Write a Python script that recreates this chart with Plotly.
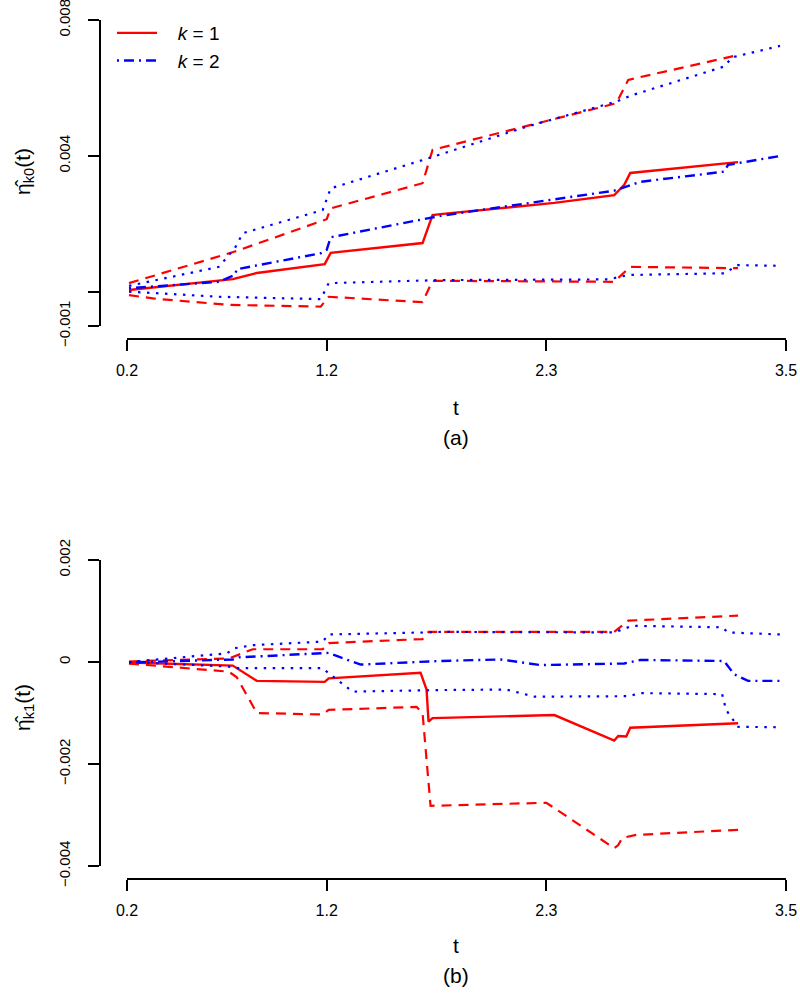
import plotly.graph_objects as go

# panel (a): eta_k0(t), k = 1 (red) and k = 2 (blue), estimates and bands
a_est1_t = [0.21, 0.73, 0.85, 1.19, 1.22, 1.68, 1.73, 1.77, 2.34, 2.64, 2.69, 2.72, 3.26]
a_est1_v = [0.00006, 0.00038, 0.00056, 0.00082, 0.00115, 0.00144, 0.00226, 0.00229,
            0.00262, 0.00285, 0.00315, 0.0035, 0.00382]
a_up1_t = [0.21, 0.74, 1.20, 1.22, 1.68, 1.73, 2.65, 2.71, 3.26]
a_up1_v = [0.00026, 0.00119, 0.00214, 0.00246, 0.0032, 0.00418, 0.00555, 0.00624, 0.00697]
a_lo1_t = [0.21, 0.33, 0.71, 1.17, 1.21, 1.27, 1.68, 1.73, 2.22, 2.64, 2.72, 3.26]
a_lo1_v = [-0.00009, -0.00019, -0.00038, -0.00043, -0.00014, -0.00016, -0.0003,
           0.00033, 0.00032, 0.0003, 0.00074, 0.0007]
a_est2_t = [0.21, 0.66, 0.74, 0.75, 1.17, 1.20, 1.22, 1.77, 2.64, 2.77, 3.19, 3.21, 3.47]
a_est2_v = [0.00011, 0.0003, 0.0005, 0.00067, 0.00114, 0.00124, 0.00161, 0.00224,
            0.00298, 0.00324, 0.00354, 0.00374, 0.004]
a_up2_t = [0.21, 0.66, 0.74, 0.78, 1.18, 1.21, 1.22, 1.68, 2.2, 2.65, 2.73, 3.19, 3.23, 3.47]
a_up2_v = [0.00018, 0.00074, 0.00129, 0.00173, 0.00241, 0.00285, 0.00305, 0.00388,
           0.00486, 0.0056, 0.00579, 0.00663, 0.0069, 0.00724]
a_lo2_t = [0.21, 0.66, 1.17, 1.21, 1.77, 2.61, 2.71, 3.19, 3.26, 3.47]
a_lo2_v = [0.00001, -0.00014, -0.00021, 0.00026, 0.00035, 0.00037, 0.0005, 0.00055,
           0.00079, 0.00077]

# panel (b): eta_k1(t)
b_est1_t = [0.21, 0.73, 0.85, 1.19, 1.21, 1.67, 1.70, 1.71, 1.73, 2.34, 2.64, 2.66,
            2.70, 2.72, 3.26]
b_est1_v = [-0.00001, -0.00007, -0.00037, -0.00039, -0.00032, -0.00021, -0.00054,
            -0.00117, -0.0011, -0.00104, -0.00154, -0.00145, -0.00146, -0.00129, -0.0012]
b_up1_t = [0.21, 0.71, 0.83, 1.18, 1.21, 1.68, 1.71, 2.64, 2.71, 3.26]
b_up1_v = [0.00001, 0.00007, 0.00025, 0.00025, 0.00037, 0.00045, 0.00059, 0.00059,
           0.00081, 0.00091]
b_lo1_t = [0.21, 0.71, 0.75, 0.85, 1.18, 1.21, 1.65, 1.68, 1.72, 2.30, 2.64, 2.66,
           2.68, 2.75, 3.26]
b_lo1_v = [-0.00003, -0.00019, -0.0003, -0.001, -0.00103, -0.00094, -0.00088, -0.001,
           -0.00282, -0.00276, -0.00365, -0.00359, -0.00345, -0.00339, -0.00329]
b_est2_t = [0.21, 0.73, 0.76, 1.17, 1.21, 1.27, 1.37, 1.77, 2.07, 2.27, 2.69, 2.77,
            3.19, 3.24, 3.31, 3.47]
b_est2_v = [-0.00001, 0.00005, 0.00009, 0.00016, 0.00018, 0.00009, -0.00005, 0.00002,
            0.00005, -0.00006, -0.00003, 0.00004, 0.00002, -0.00024, -0.00037, -0.00037]
b_up2_t = [0.21, 0.70, 0.74, 0.83, 1.18, 1.21, 1.70, 1.77, 2.64, 2.73, 3.18, 3.21, 3.47]
b_up2_v = [0.0, 0.00017, 0.00027, 0.00033, 0.0004, 0.00054, 0.00058, 0.00059, 0.00058,
           0.00071, 0.00068, 0.00058, 0.00054]
b_lo2_t = [0.21, 0.71, 0.74, 1.18, 1.21, 1.33, 1.77, 2.10, 2.24, 2.71, 2.77, 3.18,
           3.20, 3.26, 3.47]
b_lo2_v = [0.0, -0.00009, -0.00012, -0.00012, -0.00022, -0.00058, -0.00055, -0.00054,
           -0.00068, -0.00067, -0.00061, -0.00063, -0.00094, -0.00127, -0.00128]

x_ticks = [0.2, 1.2, 2.3, 3.5]
a_yticks = [-0.001, 0, 0.004, 0.008]
a_ytext = ['\u22120.001', '', '0.004', '0.008']
b_yticks = [-0.004, -0.002, 0, 0.002]
b_ytext = ['\u22120.004', '\u22120.002', '0', '0.002']

RED = '#ff0000'
BLUE = '#0000ff'
FONT = 'Liberation Sans, Arial, Helvetica, sans-serif'
W, H = 800, 993

est1 = dict(color=RED, width=2.4)
ci1 = dict(color=RED, width=2.2, dash='10px,7px')
est2 = dict(color=BLUE, width=2.4, dash='2px,5px,10px,5px')
ci2 = dict(color=BLUE, width=2.2, dash='2.5px,6.5px')

fig = go.Figure()


def add(t, v, line, xa, ya, name=None):
    fig.add_trace(go.Scatter(x=t, y=v, mode='lines', line=line, xaxis=xa, yaxis=ya,
                             name=name, showlegend=name is not None))


gap = '\u00a0' * 3
add(a_est1_t, a_est1_v, est1, 'x', 'y', gap + '<i>k</i> = 1')
add(a_est2_t, a_est2_v, est2, 'x', 'y', gap + '<i>k</i> = 2')
add(a_up1_t, a_up1_v, ci1, 'x', 'y')
add(a_lo1_t, a_lo1_v, ci1, 'x', 'y')
add(a_up2_t, a_up2_v, ci2, 'x', 'y')
add(a_lo2_t, a_lo2_v, ci2, 'x', 'y')

add(b_est1_t, b_est1_v, est1, 'x2', 'y2')
add(b_up1_t, b_up1_v, ci1, 'x2', 'y2')
add(b_lo1_t, b_lo1_v, ci1, 'x2', 'y2')
add(b_est2_t, b_est2_v, est2, 'x2', 'y2')
add(b_up2_t, b_up2_v, ci2, 'x2', 'y2')
add(b_lo2_t, b_lo2_v, ci2, 'x2', 'y2')

ax = dict(showgrid=False, zeroline=False, showline=True, linecolor='black', linewidth=2,
          ticks='outside', ticklen=11, tickwidth=2, tickcolor='black',
          anchor='free', automargin=False, ticklabeloverflow='allow')
xdom = [127 / W, 786 / W]


def ydom(top, bottom):
    return [1 - bottom / H, 1 - top / H]


fig.update_layout(
    template='none',
    width=W, height=H,
    margin=dict(l=0, r=0, t=0, b=0, autoexpand=False),
    paper_bgcolor='white', plot_bgcolor='white',
    font=dict(family=FONT, size=16, color='black'),
    legend=dict(x=0.14, y=1 - 14 / H, xanchor='left', yanchor='top',
                bgcolor='rgba(0,0,0,0)', font=dict(size=19), itemwidth=40),
    xaxis=dict(domain=xdom, range=[0.2, 3.5], position=1 - 339 / H, ticklabelstandoff=6,
               tickfont=dict(size=16), tickvals=x_ticks,
               ticktext=[str(v) for v in x_ticks], **ax),
    yaxis=dict(domain=ydom(20, 326), range=[-0.001, 0.008], position=100 / W,
               ticklabelstandoff=12, tickfont=dict(size=15), tickvals=a_yticks,
               ticktext=a_ytext, tickangle=-90, **ax),
    xaxis2=dict(domain=xdom, range=[0.2, 3.5], position=1 - 879 / H, ticklabelstandoff=6,
                tickfont=dict(size=16), tickvals=x_ticks,
                ticktext=[str(v) for v in x_ticks], **ax),
    yaxis2=dict(domain=ydom(560, 866), range=[-0.004, 0.002], position=100 / W,
                ticklabelstandoff=12, tickfont=dict(size=15), tickvals=b_yticks,
                ticktext=b_ytext, tickangle=-90, **ax),
)

notes = [
    ('t', 456, 407, 21, 0), ('(a)', 456, 437, 21, 0),
    ('t', 456, 945, 21, 0), ('(b)', 456, 975, 21, 0),
    ('\u03b7\u0302<sub>k0</sub>(t)', 24, 172, 21, -90),
    ('\u03b7\u0302<sub>k1</sub>(t)', 24, 708, 21, -90),
]
for text, px, py, size, ang in notes:
    fig.add_annotation(text=text, x=px / W, y=1 - py / H, xref='paper', yref='paper',
                       showarrow=False, xanchor='center', yanchor='middle',
                       textangle=ang, font=dict(size=size))

# the page's default body margin would shift the 800x993 figure
fig.write_html("out.html", config={'displayModeBar': False},
               post_script="document.body.style.margin = '0';")
